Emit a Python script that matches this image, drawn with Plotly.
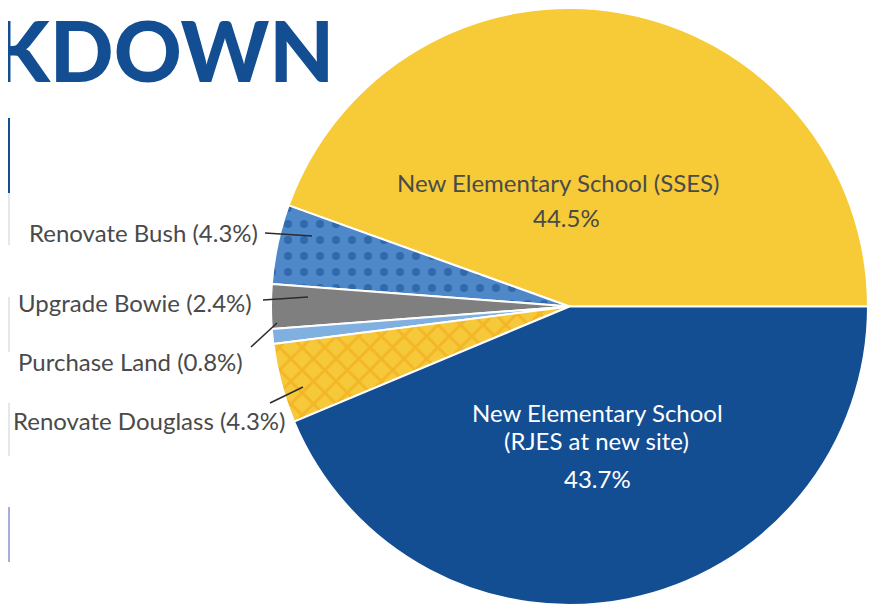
import plotly.graph_objects as go

# ---- data ----
labels = ["New Elementary School (SSES)", "Renovate Bush", "Upgrade Bowie",
          "Purchase Land", "Renovate Douglass", "New Elementary School (RJES at new site)"]
values = [44.5, 4.3, 2.4, 0.8, 4.3, 43.7]
colors = ["#F6CB37", "#4E88C8", "#7F7F7F", "#7FB0DF", "#F6C93A", "#134E93"]
pattern_shapes = ["", ".", "", "", "x", ""]
pattern_fg = ["#F6CB37", "#114A90", "#7F7F7F", "#7FB0DF", "#EFA314", "#134E93"]
pattern_solidity = [0.2, 0.2, 0.2, 0.2, 0.33, 0.2]

W, H = 877, 608
OFF = 8          # the page body adds an 8px margin; compensate
FONT = "Lato"
TXT = "#4A4A4A"


def px(x):
    return (x - OFF) / W


def py(y):
    return 1 - (y - OFF) / H


fig = go.Figure()
fig.add_trace(go.Pie(
    labels=labels, values=values, sort=False, direction="counterclockwise",
    rotation=-70.2, textinfo="none", hoverinfo="label+percent", showlegend=False,
    marker=dict(colors=colors, line=dict(color="white", width=2),
                pattern=dict(shape=pattern_shapes, fgcolor=pattern_fg,
                             bgcolor=colors, size=16, solidity=pattern_solidity,
                             fillmode="overlay")),
    domain=dict(x=[263 / W, 860 / W], y=[1 - 597 / H, 1]),
))

ann = []
# title fragment (cropped infographic heading)
ann.append(dict(text="BREAKDOWN", x=px(336), y=py(49), xref="paper", yref="paper",
                xanchor="right", yanchor="middle", showarrow=False,
                font=dict(family=FONT, size=84, color="#134E93", weight=900)))

# inside labels
inside = [
    ("New Elementary School (SSES)", 558, 183, TXT),
    ("44.5%", 566, 217, TXT),
    ("New Elementary School", 597, 412, "white"),
    ("(RJES at new site)", 596, 440, "white"),
    ("43.7%", 597, 478, "white"),
]
for txt, x, y, c in inside:
    ann.append(dict(text=txt, x=px(x), y=py(y), xref="paper", yref="paper",
                    xanchor="center", yanchor="middle", showarrow=False,
                    font=dict(family=FONT, size=24, color=c)))

# outside labels with leader lines
outside = [
    ("Renovate Bush (4.3%)", 257, 232, (265, 233), (312, 236)),
    ("Upgrade Bowie (2.4%)", 251, 302, (263, 300), (308, 297)),
    ("Purchase Land (0.8%)", 242, 361, (251, 347), (277, 323)),
    ("Renovate Douglass (4.3%)", 284, 420, (270, 403), (303, 387)),
]
for txt, xr, yc, p0, p1 in outside:
    ann.append(dict(text=txt, x=px(xr + 3), y=py(yc), xref="paper", yref="paper",
                    xanchor="right", yanchor="middle", showarrow=False,
                    font=dict(family=FONT, size=24, color=TXT)))

shapes = []
for txt, xr, yc, p0, p1 in outside:
    shapes.append(dict(type="line", xref="paper", yref="paper",
                       x0=px(p0[0]), y0=py(p0[1]), x1=px(p1[0]), y1=py(p1[1]),
                       line=dict(color="#2B2B2B", width=1.5)))

# left-edge decorative bars from the surrounding infographic
bars = [(118, 193, "#134E93"), (193, 245, "#E6E7E9"), (297, 352, "#E6E7E9"),
        (403, 456, "#E6E7E9"), (507, 562, "#A9AED8")]
for y0, y1, c in bars:
    shapes.append(dict(type="rect", xref="paper", yref="paper",
                       x0=0, x1=2 / W, y0=py(y1), y1=py(y0),
                       fillcolor=c, line=dict(width=0), layer="below"))

fig.update_layout(
    width=W, height=H, margin=dict(l=0, r=0, t=0, b=0),
    paper_bgcolor="white", plot_bgcolor="white",
    annotations=ann, shapes=shapes,
)
fig.write_html("out.html")
